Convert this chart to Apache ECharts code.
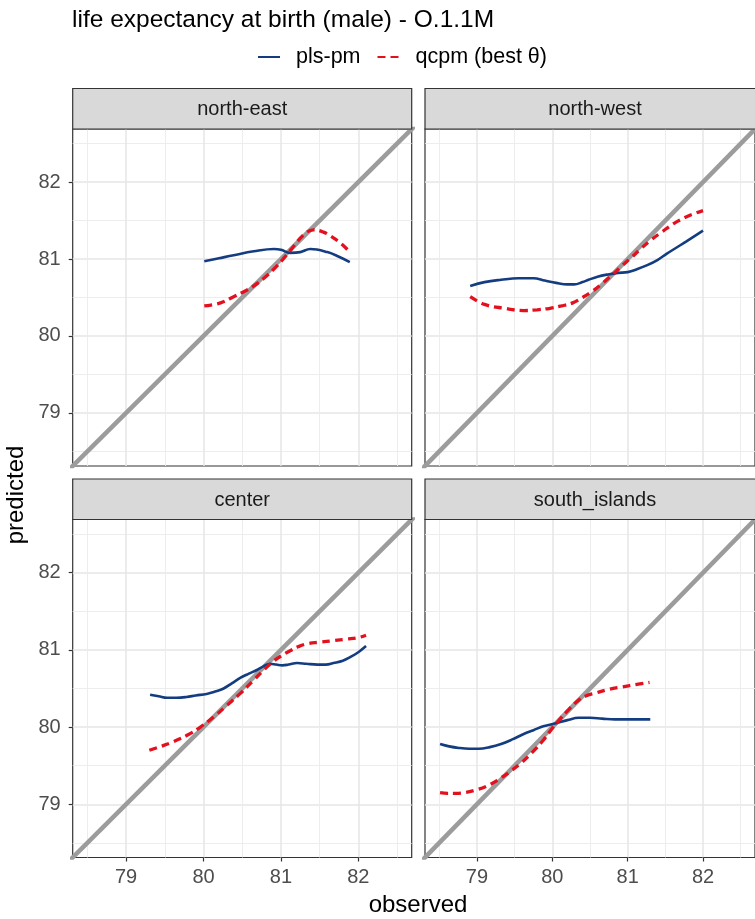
<!DOCTYPE html>
<html>
<head>
<meta charset="utf-8">
<script src="https://cdn.jsdelivr.net/npm/echarts@6/dist/echarts.min.js"></script>
<style>
html, body { margin: 0; padding: 0; background: #fff; }
#echart { width: 755px; height: 919px; }
</style>
</head>
<body>
<div id="echart"></div>
<script>
// facet names and axis setup
const panels = ["north-east", "north-west", "center", "south_islands"];
const axisMin = 78.31;
const axisMax = 82.69;
const majorTicks = [79, 80, 81, 82];
const minorTicks = [78.5, 79.5, 80.5, 81.5, 82.5];
const diagonal = [[78, 78], [83, 83]];

// [observed, predicted]
const plsNorthEast = [[80.01, 80.97], [80.2, 81.01], [80.39, 81.05], [80.65, 81.1], [80.91, 81.13], [81.0, 81.12], [81.12, 81.08], [81.25, 81.09], [81.38, 81.13], [81.6, 81.09], [81.75, 81.03], [81.89, 80.96]];
const qcpmNorthEast = [[80.01, 80.39], [80.22, 80.43], [80.39, 80.51], [80.55, 80.59], [80.65, 80.65], [80.78, 80.75], [80.91, 80.87], [81.02, 80.99], [81.12, 81.11], [81.29, 81.31], [81.42, 81.38], [81.55, 81.35], [81.64, 81.3], [81.78, 81.2], [81.9, 81.08]];

const plsNorthWest = [[78.91, 80.65], [79.1, 80.7], [79.32, 80.73], [79.55, 80.75], [79.75, 80.75], [79.9, 80.72], [80.05, 80.69], [80.2, 80.67], [80.29, 80.67], [80.4, 80.7], [80.48, 80.73], [80.6, 80.77], [80.74, 80.8], [80.87, 80.82], [81.0, 80.83], [81.13, 80.87], [81.26, 80.92], [81.4, 80.99], [81.52, 81.07], [81.65, 81.15], [81.78, 81.23], [82.0, 81.37]];
const qcpmNorthWest = [[78.91, 80.51], [79.1, 80.41], [79.36, 80.36], [79.62, 80.33], [79.8, 80.34], [79.97, 80.36], [80.12, 80.39], [80.27, 80.43], [80.4, 80.5], [80.53, 80.58], [80.66, 80.68], [80.79, 80.79], [80.92, 80.91], [81.05, 81.02], [81.17, 81.13], [81.3, 81.24], [81.45, 81.35], [81.61, 81.46], [81.76, 81.54], [81.91, 81.6], [82.0, 81.63]];

const plsCenter = [[79.31, 80.42], [79.42, 80.4], [79.53, 80.38], [79.65, 80.38], [79.78, 80.39], [79.9, 80.41], [80.04, 80.43], [80.15, 80.46], [80.26, 80.5], [80.37, 80.57], [80.48, 80.64], [80.58, 80.69], [80.69, 80.74], [80.78, 80.79], [80.86, 80.82], [80.94, 80.81], [81.02, 80.8], [81.1, 80.81], [81.21, 80.83], [81.33, 80.82], [81.47, 80.81], [81.58, 80.81], [81.68, 80.83], [81.8, 80.86], [81.9, 80.91], [82.0, 80.97], [82.1, 81.05]];
const qcpmCenter = [[79.3, 79.7], [79.45, 79.75], [79.61, 79.81], [79.8, 79.9], [79.96, 80.0], [80.13, 80.13], [80.3, 80.28], [80.48, 80.44], [80.65, 80.61], [80.79, 80.75], [80.9, 80.85], [81.0, 80.92], [81.12, 80.99], [81.22, 81.04], [81.34, 81.08], [81.5, 81.1], [81.68, 81.12], [81.85, 81.14], [82.0, 81.16], [82.1, 81.19]];

const plsSouthIslands = [[78.51, 79.78], [78.63, 79.75], [78.76, 79.73], [78.9, 79.72], [79.02, 79.72], [79.17, 79.74], [79.32, 79.78], [79.47, 79.84], [79.62, 79.91], [79.75, 79.96], [79.88, 80.01], [80.05, 80.05], [80.2, 80.09], [80.35, 80.12], [80.5, 80.12], [80.66, 80.11], [80.83, 80.1], [81.0, 80.1], [81.15, 80.1], [81.3, 80.1]];
const qcpmSouthIslands = [[78.51, 79.15], [78.61, 79.14], [78.71, 79.14], [78.84, 79.15], [78.97, 79.18], [79.12, 79.23], [79.27, 79.31], [79.42, 79.41], [79.58, 79.53], [79.73, 79.67], [79.88, 79.83], [79.98, 79.96], [80.09, 80.09], [80.22, 80.23], [80.35, 80.35], [80.46, 80.41], [80.57, 80.44], [80.75, 80.49], [80.92, 80.52], [81.1, 80.55], [81.29, 80.58]];

const plsData = [plsNorthEast, plsNorthWest, plsCenter, plsSouthIslands];
const qcpmData = [qcpmNorthEast, qcpmNorthWest, qcpmCenter, qcpmSouthIslands];

const font = "'Liberation Sans', Arial, sans-serif";
const blue = "#143C80";
const red = "#E3101E";

// panel boxes in px (right column runs off the canvas like the original)
const boxes = [
    { left: 72.7, top: 129, width: 339, height: 337 },
    { left: 425, top: 129, width: 340, height: 337 },
    { left: 72.7, top: 519.5, width: 339, height: 338 },
    { left: 425, top: 519.5, width: 340, height: 338 }
];
const stripHeight = 40.5;

const chart = echarts.init(document.getElementById("echart"), null, { renderer: "canvas" });

const grids = [], xAxes = [], yAxes = [], series = [], graphics = [];

boxes.forEach((b, i) => {
    const isBottom = i >= 2;
    const isLeft = i % 2 === 0;
    grids.push({
        left: b.left, top: b.top, width: b.width, height: b.height,
        show: true, backgroundColor: "#fff", borderColor: "#333", borderWidth: 1.2
    });
    // major axes carry ticks and labels, minor ones only grid lines
    xAxes.push({
        type: "value", gridIndex: i, min: axisMin, max: axisMax,
        axisLine: { show: false },
        axisTick: { show: isBottom, customValues: majorTicks, length: 4, lineStyle: { color: "#333", width: 1.2 } },
        axisLabel: { show: isBottom, customValues: majorTicks, margin: 10, fontSize: 20, color: "#4D4D4D", fontFamily: font },
        splitLine: { show: true, lineStyle: { color: "#E6E6E6", width: 1.5 } }
    });
    xAxes.push({
        type: "value", gridIndex: i, min: axisMin, max: axisMax,
        axisLine: { show: false },
        axisTick: { show: false, customValues: minorTicks },
        axisLabel: { show: false },
        splitLine: { show: true, lineStyle: { color: "#EBEBEB", width: 0.9 } }
    });
    yAxes.push({
        type: "value", gridIndex: i, min: axisMin, max: axisMax,
        axisLine: { show: false },
        axisTick: { show: isLeft, customValues: majorTicks, length: 4, lineStyle: { color: "#333", width: 1.2 } },
        axisLabel: { show: isLeft, customValues: majorTicks, margin: 12, fontSize: 20, color: "#4D4D4D", fontFamily: font },
        splitLine: { show: true, lineStyle: { color: "#E6E6E6", width: 1.5 } }
    });
    yAxes.push({
        type: "value", gridIndex: i, min: axisMin, max: axisMax,
        axisLine: { show: false },
        axisTick: { show: false, customValues: minorTicks },
        axisLabel: { show: false },
        splitLine: { show: true, lineStyle: { color: "#EBEBEB", width: 0.9 } }
    });

    series.push({
        type: "line", xAxisIndex: 2 * i, yAxisIndex: 2 * i,
        data: diagonal, symbol: "none", silent: true, clip: true,
        lineStyle: { color: "#9C9C9C", width: 4.5 }
    });
    series.push({
        name: "pls-pm", type: "line", xAxisIndex: 2 * i, yAxisIndex: 2 * i,
        data: plsData[i], symbol: "none", smooth: 0.4, clip: true,
        lineStyle: { color: blue, width: 2.6 }, itemStyle: { color: blue }
    });
    series.push({
        name: "qcpm (best \u03b8)", type: "line", xAxisIndex: 2 * i, yAxisIndex: 2 * i,
        data: qcpmData[i], symbol: "none", smooth: 0.4, clip: true,
        lineStyle: { color: red, width: 3.3, type: [8, 5] }, itemStyle: { color: red }
    });

    // facet strip
    const stripTop = b.top - stripHeight;
    graphics.push({
        type: "rect", z: 10,
        shape: { x: b.left, y: stripTop, width: b.width, height: stripHeight },
        style: { fill: "#D9D9D9", stroke: "#333", lineWidth: 1.2 }
    });
    graphics.push({
        type: "text", z: 11,
        x: b.left + b.width / 2, y: stripTop + stripHeight / 2 + 1,
        style: { text: panels[i], fontSize: 20, fontFamily: font, fill: "#1A1A1A", align: "center", verticalAlign: "middle" }
    });
});

graphics.push({
    type: "text", x: 418, y: 905,
    style: { text: "observed", fontSize: 24, fontFamily: font, fill: "#000", align: "center", verticalAlign: "middle" }
});
graphics.push({
    type: "text", x: 16, y: 495, rotation: Math.PI / 2,
    style: { text: "predicted", fontSize: 24, fontFamily: font, fill: "#000", align: "center", verticalAlign: "middle" }
});

chart.setOption({
    animation: false,
    backgroundColor: "#fff",
    title: {
        text: "life expectancy at birth (male) - O.1.1M",
        left: 67, top: 3,
        textStyle: { fontSize: 24.5, fontWeight: "normal", color: "#000", fontFamily: font }
    },
    legend: {
        data: ["pls-pm", "qcpm (best \u03b8)"],
        left: 252, top: 41,
        itemWidth: 22, itemHeight: 14, itemGap: 16,
        itemStyle: { opacity: 0 },
        textStyle: { fontSize: 21.5, color: "#000", fontFamily: font, padding: [0, 0, 0, 11] }
    },
    grid: grids,
    xAxis: xAxes,
    yAxis: yAxes,
    series: series,
    graphic: graphics
});
</script>
</body>
</html>
